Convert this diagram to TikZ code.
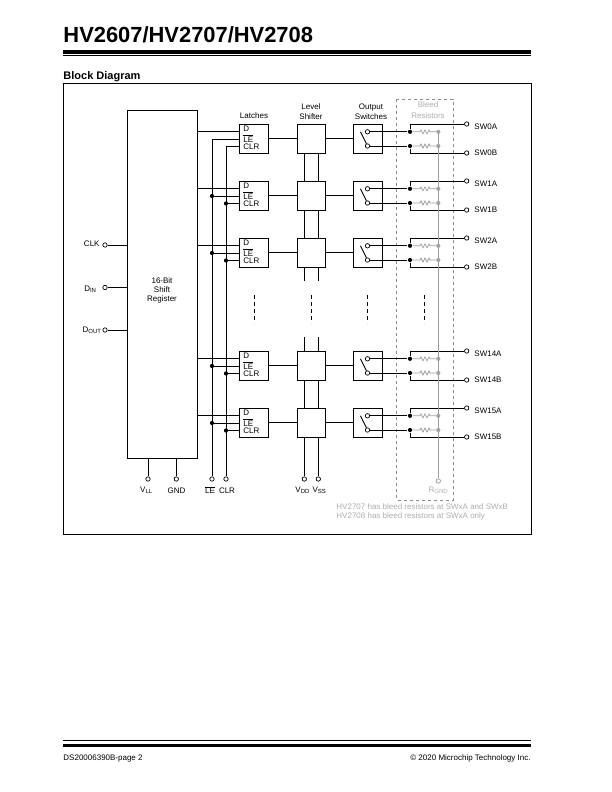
\documentclass[tikz,border=0pt]{standalone}
\usepackage{fontspec}
\setmainfont{Liberation Sans}
\usetikzlibrary{calc}
\usetikzlibrary{positioning}

\tikzset{
	txt/.style={inner sep=0pt, font=\fontsize{8}{9}\selectfont, align=center},
	greytxt/.style={txt, text=black!32},
	block/.style={draw, rectangle, inner sep=0pt, minimum width=28.5pt, minimum height=29pt},
	pin/.style={draw, circle, fill=white, inner sep=0pt, minimum size=4.4pt, line width=0.7pt},
	greypin/.style={pin, draw=black!40},
	dot/.style={fill, circle, inner sep=0pt, minimum size=4.2pt},
	greydot/.style={dot, fill=black!35},
	greywire/.style={line width=0.7pt, draw=black!38}
}

\begin{document}
\begin{tikzpicture}[x=1pt, y=-1pt, line width=0.9pt]
	\useasboundingbox (0,0) rectangle (612,792);
	\node[anchor=base west, inner sep=0pt, font=\fontsize{21.9}{24}\selectfont\bfseries] (title) at (63,42.5) {HV2607/HV2707/HV2708};
	\node[anchor=base west, inner sep=0pt, font=\fontsize{11}{12}\selectfont\bfseries] (head) at (63,79) {Block Diagram};
	\fill (63,50.5) rectangle (531,53.8);
	\fill (63,54.9) rectangle (531,55.7);
	\fill (63,740.2) rectangle (531,741);
	\fill (63,743.5) rectangle (531,746.8);
	\node[txt, anchor=base west] (docnum) at (63,760) {DS20006390B-page 2};
	\node[txt, anchor=base east] (copy) at (531,760) {© 2020 Microchip Technology Inc.};
	\draw (63.5,83.5) rectangle (531,534.5);

	\draw[dashed, draw=black!45, line width=0.6pt] (396.7,99.3) rectangle (453.3,500);
	\node[greytxt] (bleed) at (428,105) {Bleed};
	\node[greytxt] (resist) at (428,115.5) {Resistors};
	\node[greytxt, anchor=west] (note1) at (336,507) {HV2707 has bleed resistors at SWxA and SWxB};
	\node[greytxt, anchor=west] (note2) at (336,516) {HV2708 has bleed resistors at SWxA only};

	\node[draw, rectangle, inner sep=0pt, minimum width=70pt, minimum height=348pt] (reg) at (162,284) {};
	\node[txt] (regtxt) at (162,290.5) {16-Bit\\Shift\\Register};
	\node[txt] (latches) at (254,116) {Latches};
	\node[txt] (level) at (311,111.5) {Level\\[1pt]Shifter};
	\node[txt] (output) at (371,111.5) {Output\\[1pt]Switches};

	\node[pin] (clk) at (105,245) {};
	\node[pin] (din) at (105,287.5) {};
	\node[pin] (dout) at (105,330) {};
	\node[txt, anchor=east] (clklab) at (100,244) {CLK};
	\node[txt, anchor=east] (dinlab) at (97,289) {D\textsubscript{IN}};
	\node[txt, anchor=east] (doutlab) at (102,330) {D\textsubscript{OUT}};
	\draw (clk) -- (reg.west |- clk);
	\draw (din) -- (reg.west |- din);
	\draw (dout) -- (reg.west |- dout);

	\node[pin] (vll) at (148,479) {};
	\node[pin] (gnd) at (176.3,479) {};
	\node[pin] (lepin) at (212,479) {};
	\node[pin] (clrpin) at (226,479) {};
	\node[pin] (vdd) at (304.3,479) {};
	\node[pin] (vss) at (318.3,479) {};
	\node[greypin] (rgnd) at (438.3,481) {};
	\node[txt] (vlllab) at (146.5,490.5) {V\textsubscript{LL}};
	\node[txt] (gndlab) at (176.5,490.5) {GND};
	\node[txt] (lelab) at (210,490) {$\overline{\mbox{LE}}$};
	\node[txt] (clrlab) at (227,490.5) {CLR};
	\node[txt] (vddlab) at (302.7,490.5) {V\textsubscript{DD}};
	\node[txt] (vsslab) at (319.5,490.5) {V\textsubscript{SS}};
	\node[greytxt] (rgndlab) at (438.5,490.5) {R\textsubscript{GND}};
	\draw (vll) -- (vll |- reg.south);
	\draw (gnd) -- (gnd |- reg.south);

	\foreach \y/\n in {124/0,181/1,238/2,351/14,408/15}{
		\node[block] (la\n) at (254,\y+14.5) {};
		\node[block] (ls\n) at (311.5,\y+14.5) {};
		\node[block, minimum width=29pt] (os\n) at (368,\y+14.5) {};
		\coordinate (d\n) at (240,\y+7.8);
		\coordinate (le\n) at (240,\y+15);
		\coordinate (clr\n) at (240,\y+22.5);
		\node[txt, anchor=west] (dtxt\n) at (243,\y+4.8) {D};
		\node[txt, anchor=west] (letxt\n) at (243,\y+14.3) {$\overline{\mbox{LE}}$};
		\node[txt, anchor=west] (clrtxt\n) at (243,\y+22.5) {CLR};
		\draw (reg.east |- d\n) -- (d\n);
		\draw (la\n) -- (ls\n);
		\draw (ls\n) -- (os\n);
		\node[pin] (ca\n) at (367.5,\y+7.8) {};
		\node[pin] (cb\n) at (367.5,\y+22) {};
		\coordinate (sw\n) at (360.5,\y+7.8);
		\draw (sw\n) -- (cb\n);
		\node[dot] (ja\n) at (410,\y+7.8) {};
		\node[dot] (jb\n) at (410,\y+22) {};
		\node[greydot] (ga\n) at (438.3,\y+7.8) {};
		\node[greydot] (gb\n) at (438.3,\y+22) {};
		\foreach \p in {a,b}{
			\draw[greywire] (j\p\n) -- ++(10,0) -- ++(1,-2) -- ++(2,4) -- ++(2,-4) -- ++(2,4) -- ++(2,-4) -- ++(1,2) -- (g\p\n);
		}
		\draw (ca\n) -- (ja\n);
		\draw (cb\n) -- (jb\n);
		\node[pin] (sa\n) at (466.7,\y) {};
		\node[pin] (sb\n) at (466.7,\y+29) {};
		\draw (ja\n) -- (ja\n |- sa\n) -- (sa\n);
		\draw (jb\n) -- (jb\n |- sb\n) -- (sb\n);
		\node[txt, anchor=west] (salab\n) at (474,\y+2.5) {SW\n A};
		\node[txt, anchor=west] (sblab\n) at (474,\y+29) {SW\n B};
		\ifnum\n>0
			\node[dot] (ble\n) at (lepin |- le\n) {};
			\node[dot] (bclr\n) at (clrpin |- clr\n) {};
		\fi
		\draw (lepin |- le\n) -- (le\n);
		\draw (clrpin |- clr\n) -- (clr\n);
	}
	\draw (lepin) -- (lepin |- le0);
	\draw (clrpin) -- (clrpin |- clr0);

	\foreach \a/\b in {0/1,1/2,14/15}{
		\draw (vdd |- ls\a.south) -- (vdd |- ls\b.north);
		\draw (vss |- ls\a.south) -- (vss |- ls\b.north);
	}
	\coordinate (cutlow) at (311,281);
	\coordinate (cuthigh) at (311,337);
	\draw (vdd |- ls2.south) -- (vdd |- cutlow);
	\draw (vss |- ls2.south) -- (vss |- cutlow);
	\draw (vdd |- cuthigh) -- (vdd |- ls14.north);
	\draw (vss |- cuthigh) -- (vss |- ls14.north);
	\draw (vdd) -- (vdd |- ls15.south);
	\draw (vss) -- (vss |- ls15.south);
	\draw[greywire] (rgnd) -- (ga0.center) -- (ja0.center -| ga0);

	\foreach \x in {254,311,367,424}{
		\draw[dash pattern=on 4pt off 3pt] (\x,295) -- (\x,323);
	}
\end{tikzpicture}
\end{document}
